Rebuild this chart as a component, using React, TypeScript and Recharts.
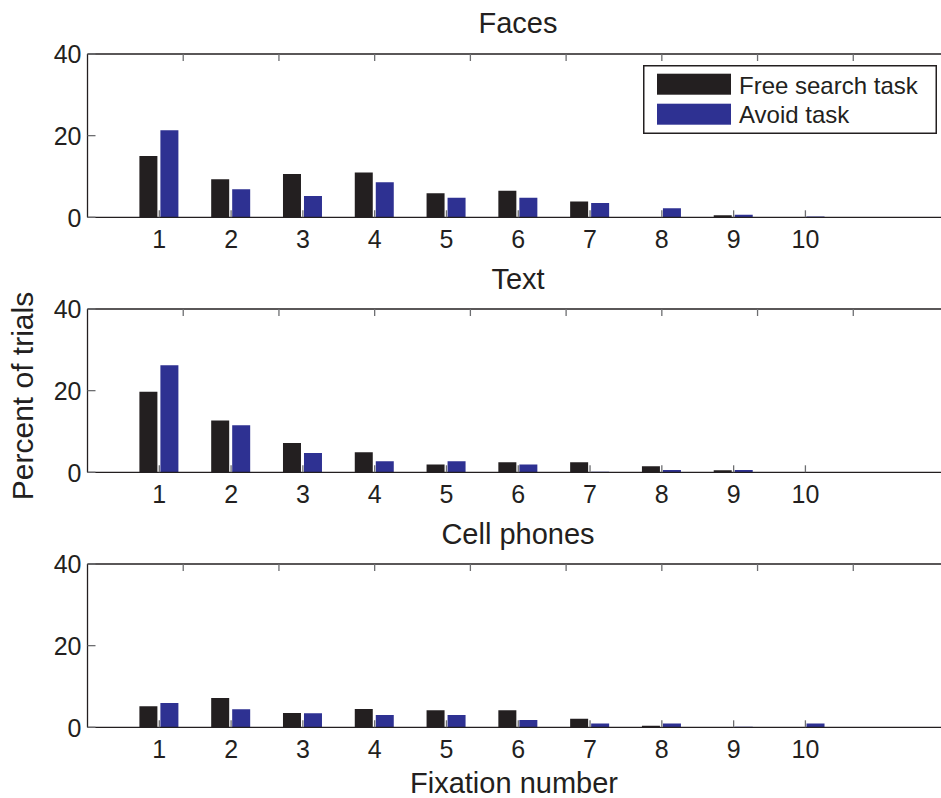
import React from 'react';
import { BarChart, Bar, XAxis, YAxis, Legend } from 'recharts';

const fixations = [1, 2, 3, 4, 5, 6, 7, 8, 9, 10];
const xTicks = [1, 2, 3, 4, 5, 6, 7, 8, 9, 10];
const yTicks = [0, 20, 40];
const panelTitles = ['Faces', 'Text', 'Cell phones'];
const seriesNames = ['Free search task', 'Avoid task'];

const facesFree = [15.0, 9.3, 10.6, 11.0, 5.9, 6.5, 3.85, 0, 0.5, 0];
const facesAvoid = [21.3, 6.9, 5.2, 8.6, 4.8, 4.8, 3.5, 2.2, 0.65, 0.2];
const textFree = [19.7, 12.7, 7.2, 4.9, 1.9, 2.45, 2.45, 1.5, 0.5, 0.1];
const textAvoid = [26.2, 11.5, 4.7, 2.7, 2.7, 1.9, 0.15, 0.55, 0.55, 0.1];
const cellFree = [5.15, 7.2, 3.5, 4.5, 4.15, 4.15, 2.1, 0.4, 0, 0];
const cellAvoid = [5.95, 4.4, 3.45, 3.0, 3.0, 1.8, 0.9, 0.9, 0.15, 0.9];

const FONT = '"Liberation Sans", Arial, Helvetica, sans-serif';
const INK = '#231f20';
const BLUE = '#2e3192';
const TICK = '#6d6e71';

const PANEL_TOPS = [54, 309.3, 564.3];
const PLOT_H = 163.3;
const TOP_PAD = 30;
const BOTTOM_AXIS_H = 40;

const makeRows = (free: number[], avoid: number[]) =>
    fixations.map((f, i) => ({ fix: f, free: free[i], avoid: avoid[i] }));

const panels = [
    makeRows(facesFree, facesAvoid),
    makeRows(textFree, textAvoid),
    makeRows(cellFree, cellAvoid),
];

const BottomTick = (props: any) => {
    const { x, y, payload } = props;
    return (
        <g>
            <line x1={x} x2={x} y1={y} y2={y - 7} stroke={TICK} strokeWidth={1.3} />
            <text x={x} y={y + 30.6} textAnchor="middle" fontSize={25} fontFamily={FONT} fill={INK}>
                {payload.value}
            </text>
        </g>
    );
};

const TopTick = (props: any) => {
    const { x, y } = props;
    return <line x1={x} x2={x} y1={y} y2={y + 7} stroke={TICK} strokeWidth={1.3} />;
};

const LeftTick = (props: any) => {
    const { x, y, payload } = props;
    return (
        <g>
            <line x1={x} x2={x + 8} y1={y} y2={y} stroke={TICK} strokeWidth={1.3} />
            <text x={x - 6} y={y + 9.5} textAnchor="end" fontSize={25} fontFamily={FONT} fill={INK}>
                {payload.value}
            </text>
        </g>
    );
};

const LegendBox = (props: any) => {
    const items = [...(props.payload || [])].sort(
        (a: any, b: any) => seriesNames.indexOf(a.value) - seriesNames.indexOf(b.value)
    );
    return (
        <svg width={294} height={69} style={{ display: 'block' }}>
            <rect x={0.75} y={0.75} width={292.5} height={67.5} fill="#fff" stroke={INK} strokeWidth={1.5} />
            {items.map((it: any, i: number) => (
                <g key={it.value}>
                    <rect x={14} y={8.7 + i * 30} width={74} height={21} fill={it.color} />
                    <text x={96} y={29.3 + i * 29} fontSize={24} fontFamily={FONT} fill={INK}>
                        {it.value}
                    </text>
                </g>
            ))}
        </svg>
    );
};

const Panel = ({ rows, top, showLegend }: { rows: any[]; top: number; showLegend: boolean }) => (
    <div style={{ position: 'absolute', left: 0, top: top - TOP_PAD }}>
        <BarChart
            width={960}
            height={TOP_PAD + PLOT_H + BOTTOM_AXIS_H}
            data={rows}
            margin={{ top: TOP_PAD - 1, right: 11, bottom: 0, left: 0 }}
            barSize={18}
            barGap={3}
        >
            <XAxis
                dataKey="fix"
                type="number"
                domain={[0, 12]}
                ticks={xTicks}
                interval={0}
                allowDataOverflow
                height={BOTTOM_AXIS_H}
                tickSize={0}
                tickMargin={0}
                tickLine={false}
                axisLine={{ stroke: INK, strokeWidth: 1.3 }}
                tick={<BottomTick />}
            />
            <XAxis
                xAxisId="top"
                orientation="top"
                type="number"
                domain={[0, 12]}
                ticks={xTicks}
                interval={0}
                allowDataOverflow
                height={1}
                tickSize={0}
                tickMargin={0}
                tickLine={false}
                axisLine={{ stroke: INK, strokeWidth: 1.3 }}
                tick={<TopTick />}
            />
            <YAxis
                type="number"
                domain={[0, 40]}
                ticks={yTicks}
                interval={0}
                allowDataOverflow
                width={87.5}
                tickSize={0}
                tickMargin={0}
                tickLine={false}
                axisLine={{ stroke: INK, strokeWidth: 1.3 }}
                tick={<LeftTick />}
            />
            <Bar dataKey="free" name={seriesNames[0]} fill={INK} isAnimationActive={false} />
            <Bar dataKey="avoid" name={seriesNames[1]} fill={BLUE} isAnimationActive={false} />
            {showLegend && (
                <Legend
                    layout="vertical"
                    align="center"
                    verticalAlign="middle"
                    wrapperStyle={{ position: 'absolute', left: 643, top: 65 - (top - TOP_PAD), width: 294, height: 69 }}
                    content={<LegendBox />}
                />
            )}
        </BarChart>
    </div>
);

export default function App() {
    return (
        <div style={{ position: 'absolute', left: 0, top: 0, width: 941, height: 798, overflow: 'hidden', background: '#fff' }}>
            {panels.map((rows, i) => (
                <Panel key={panelTitles[i]} rows={rows} top={PANEL_TOPS[i]} showLegend={i === 0} />
            ))}
            <svg width={941} height={798} style={{ position: 'absolute', left: 0, top: 0, pointerEvents: 'none' }}>
                {panelTitles.map((t, i) => (
                    <text key={t} x={518} y={PANEL_TOPS[i] - 20.7} textAnchor="middle" fontSize={29} fontFamily={FONT} fill={INK}>
                        {t}
                    </text>
                ))}
                <text x={514} y={792.7} textAnchor="middle" fontSize={29} fontFamily={FONT} fill={INK}>
                    Fixation number
                </text>
                <text x={33} y={396} textAnchor="middle" fontSize={30} fontFamily={FONT} fill={INK} transform="rotate(-90, 33, 396)">
                    Percent of trials
                </text>
            </svg>
        </div>
    );
}
